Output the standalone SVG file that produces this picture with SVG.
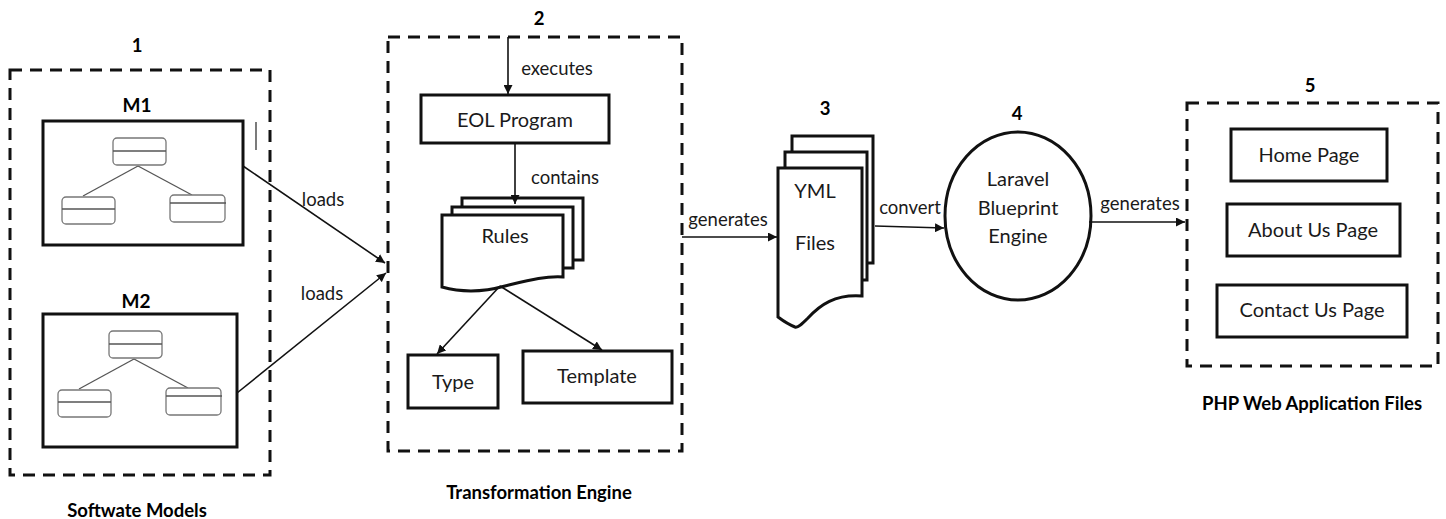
<svg xmlns="http://www.w3.org/2000/svg" width="1446" height="519" viewBox="0 0 1446 519">
  <style>
    .bg { fill: #ffffff; }
    .group { fill: none; stroke: #111; stroke-width: 3; stroke-dasharray: 12 8; }
    .box { fill: #fff; stroke: #111; stroke-width: 3; }
    .mini { fill: #fff; stroke: #777; stroke-width: 1.3; }
    .mini-line { stroke: #555; stroke-width: 1.3; fill: none; }
    .edge { stroke: #111; stroke-width: 1.6; fill: none; marker-end: url(#arrow); }
    .lbl { font-family: Lato, "Open Sans", "Liberation Sans", sans-serif; fill: #1a1a1a; text-anchor: middle; dominant-baseline: central; }
    .t20 { font-size: 20px; }
    .t18 { font-size: 18.5px; }
    .b { font-weight: bold; fill: #000; font-size: 18.5px; }
  </style>
  <defs>
    <marker id="arrow" viewBox="0 0 10 10" refX="10" refY="5" markerWidth="9" markerHeight="9" markerUnits="userSpaceOnUse" orient="auto">
      <path d="M0,0 L10,5 L0,10 Z" fill="#111"/>
    </marker>
    <!-- small class-diagram sketch used inside the model boxes -->
    <g id="classTree">
      <line class="mini-line" x1="0" y1="0" x2="-55" y2="30"/>
      <line class="mini-line" x1="0" y1="0" x2="54" y2="29"/>
      <rect class="mini" x="-25" y="-28" width="53" height="27" rx="4"/>
      <line class="mini-line" x1="-25" y1="-15" x2="28" y2="-15"/>
      <rect class="mini" x="-76" y="31" width="53" height="27" rx="4"/>
      <line class="mini-line" x1="-76" y1="43" x2="-23" y2="43"/>
      <rect class="mini" x="32" y="29" width="55" height="27" rx="4"/>
      <line class="mini-line" x1="32" y1="37" x2="88" y2="37"/>
    </g>
  </defs>

  <rect class="bg" x="0" y="0" width="1446" height="519"/>

  <!-- 1: software models -->
  <g id="software-models">
    <rect class="group" x="10" y="70" width="260" height="405"/>
    <text class="lbl b" x="137" y="45">1</text>
    <text class="lbl b" x="137" y="510">Softwate Models</text>
  </g>
  <g id="m1">
    <text class="lbl b" style="font-size:19px" x="137" y="104">M1</text>
    <rect class="box" x="43" y="121" width="200" height="124"/>
    <use href="#classTree" x="138" y="166"/>
    <line x1="256" y1="122" x2="256" y2="150" stroke="#333" stroke-width="1.3"/>
  </g>
  <g id="m2">
    <text class="lbl b" style="font-size:19px" x="136" y="300">M2</text>
    <rect class="box" x="43" y="314" width="194" height="133"/>
    <use href="#classTree" x="134" y="359"/>
  </g>

  <!-- 2: transformation engine -->
  <g id="transformation-engine">
    <rect class="group" x="388" y="37" width="294" height="414"/>
    <text class="lbl b" x="539" y="18">2</text>
    <text class="lbl b" x="539" y="492">Transformation Engine</text>
  </g>
  <g id="eol-program">
    <rect class="box" x="421" y="95" width="188" height="48"/>
    <text class="lbl t20" x="515" y="119">EOL Program</text>
  </g>
  <g id="rules">
    <rect class="box" x="462" y="198" width="121" height="62"/>
    <rect class="box" x="452" y="207" width="121" height="61"/>
    <path class="box" d="M442,215 H563 V277 C545,276 530,280 505,286 C480,293 460,292 442,287 Z"/>
    <text class="lbl t20" x="505" y="235">Rules</text>
  </g>
  <g id="type">
    <rect class="box" x="408" y="355" width="90" height="53"/>
    <text class="lbl t20" x="453" y="381">Type</text>
  </g>
  <g id="template">
    <rect class="box" x="523" y="351" width="149" height="52"/>
    <text class="lbl t20" x="597" y="375">Template</text>
  </g>

  <!-- 3: generated YAML files -->
  <g id="yml-files">
    <text class="lbl b" x="825" y="108">3</text>
    <rect class="box" x="792" y="136" width="81" height="127"/>
    <rect class="box" x="785" y="152" width="82" height="128"/>
    <path class="box" d="M778,168 H862 V296 C835,294 820,305 808,318 C802,324 798,328 795,327 C790,325 782,320 778,317 Z"/>
    <text class="lbl t20" x="815" y="190">YML</text>
    <text class="lbl t20" x="815" y="242">Files</text>
  </g>

  <!-- 4: blueprint engine -->
  <g id="blueprint-engine">
    <text class="lbl b" x="1017" y="113">4</text>
    <ellipse class="box" cx="1018" cy="216" rx="73" ry="84"/>
    <text class="lbl t20" x="1018" y="178">Laravel</text>
    <text class="lbl t20" x="1018" y="207">Blueprint</text>
    <text class="lbl t20" x="1018" y="235">Engine</text>
  </g>

  <!-- 5: web application files -->
  <g id="web-app-files">
    <rect class="group" x="1187" y="103" width="251" height="263"/>
    <text class="lbl b" x="1310" y="85">5</text>
    <text class="lbl b" x="1312" y="403">PHP Web Application Files</text>
  </g>
  <g id="home-page">
    <rect class="box" x="1231" y="129" width="156" height="52"/>
    <text class="lbl t20" x="1309" y="154">Home Page</text>
  </g>
  <g id="about-page">
    <rect class="box" x="1227" y="204" width="173" height="52"/>
    <text class="lbl t20" x="1313" y="229">About Us Page</text>
  </g>
  <g id="contact-page">
    <rect class="box" x="1217" y="285" width="190" height="52"/>
    <text class="lbl t20" x="1312" y="309">Contact Us Page</text>
  </g>

  <!-- connectors -->
  <g id="connectors">
    <line class="edge" x1="243" y1="166" x2="385" y2="263"/>
    <text class="lbl t18" x="323" y="199">loads</text>
    <line class="edge" x1="237" y1="393" x2="386" y2="273"/>
    <text class="lbl t18" x="322" y="293">loads</text>

    <line class="edge" x1="508" y1="37" x2="508" y2="94"/>
    <text class="lbl t18" x="557" y="68">executes</text>
    <line class="edge" x1="515" y1="143" x2="515" y2="204"/>
    <text class="lbl t18" x="565" y="177">contains</text>

    <line class="edge" x1="500" y1="286" x2="437" y2="354"/>
    <line class="edge" x1="500" y1="286" x2="602" y2="350"/>

    <line class="edge" x1="682" y1="237" x2="777" y2="237"/>
    <text class="lbl t18" x="728" y="219">generates</text>
    <line class="edge" x1="875" y1="226" x2="944" y2="228"/>
    <text class="lbl t18" x="910" y="207">convert</text>
    <line class="edge" x1="1089" y1="222" x2="1185" y2="222"/>
    <text class="lbl t18" x="1140" y="203">generates</text>
  </g>
</svg>
